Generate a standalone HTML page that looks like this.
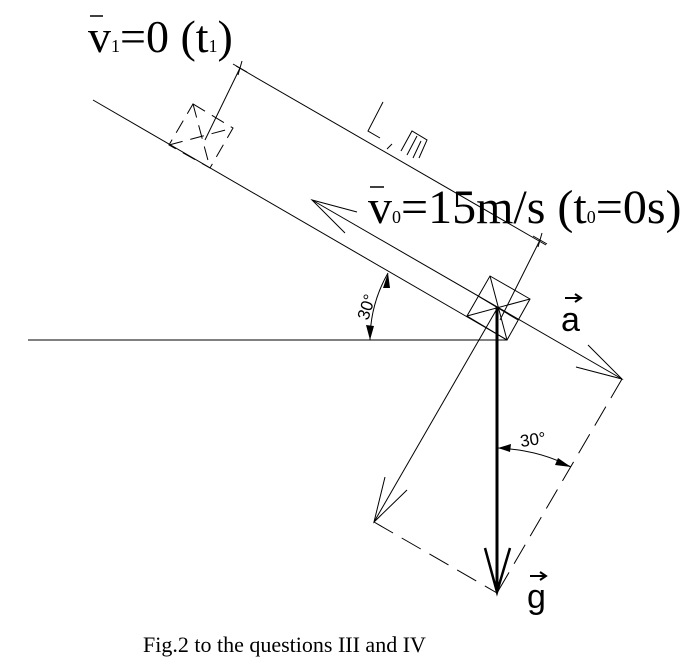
<!DOCTYPE html>
<html><head><meta charset="utf-8"><style>
html,body{margin:0;padding:0;background:#fff;}
svg{display:block;}
</style></head><body>
<svg width="690" height="672" viewBox="0 0 690 672" xmlns="http://www.w3.org/2000/svg">
<g stroke="#000" stroke-width="1" fill="none">
<line x1="28" y1="340" x2="507" y2="340"/>
<line x1="93" y1="100" x2="507" y2="340"/>
<line x1="312" y1="200" x2="622" y2="379"/>
<polyline points="357,212 312,200 345,233"/>
<polyline points="588,345 622,379 576,367"/>
<line x1="236" y1="66" x2="546" y2="245"/>
<line x1="240" y1="68" x2="205" y2="140"/>
<line x1="540" y1="240" x2="500" y2="320"/>
<line x1="233" y1="64" x2="247" y2="72"/>
<line x1="242" y1="61" x2="238" y2="75"/>
<line x1="533" y1="236" x2="547" y2="244"/>
<line x1="542" y1="233" x2="538" y2="247"/>
<polygon points="193,104 233,128 210,168 169,145" stroke-dasharray="14,8"/>
<line x1="193" y1="104" x2="210" y2="168" stroke-dasharray="14,8"/>
<line x1="169" y1="145" x2="233" y2="128" stroke-dasharray="14,8"/>
<polygon points="490,276 530,299 507,340 467,316"/>
<line x1="490" y1="276" x2="507" y2="340"/>
<line x1="467" y1="316" x2="530" y2="299"/>
<line x1="478" y1="296" x2="518" y2="320"/>
<line x1="498" y1="307" x2="374" y2="522"/>
<polyline points="385,477 374,522 407,490"/>
<line x1="622" y1="379" x2="497" y2="593" stroke-dasharray="22,10"/>
<line x1="374" y1="522" x2="497" y2="593" stroke-dasharray="22,10"/>
<line x1="497" y1="307" x2="497" y2="592" stroke-width="3"/>
<polyline points="485,548 497,592 510,548" stroke-width="2.5"/>
<path d="M370,340 A137,137 0 0 1 388,273"/>
<path d="M498,448 Q540,450 571,467"/>
<polyline points="383,102 368,131 380,138"/>
<line x1="387" y1="149" x2="392" y2="144"/>
<polyline points="401,151 412,131 427,140 419,158"/>
<line x1="407" y1="155" x2="417" y2="136"/>
<line x1="413" y1="158" x2="421" y2="141"/>
</g>
<g fill="#000">
<polygon points="388,273 383,288 390,288"/>
<polygon points="370,340 366,325 374,326"/>
<polygon points="498,448 511,444 510,452"/>
<polygon points="571,467 558,458 555,465"/>
</g>
<g font-family="Liberation Sans, sans-serif" font-size="17" fill="#000">
<text transform="translate(368,321) rotate(-72)">30°</text>
<text transform="translate(521,447) rotate(-8)">30°</text>
</g>
<g font-family="Liberation Sans, sans-serif" fill="#000">
<text x="561" y="331" font-size="34">a</text>
<text x="527" y="608" font-size="34">g</text>
</g>
<g stroke="#000" stroke-width="2" fill="none">
<line x1="565" y1="298" x2="580" y2="298"/><polyline points="575,294 581,298 575,302"/>
<line x1="530" y1="576" x2="545" y2="576"/><polyline points="540,572 546,576 540,580"/>
</g>
<g font-family="Liberation Serif, serif" fill="#000">
<text x="88" y="52" font-size="46">v<tspan font-size="18">1</tspan>=0 (t<tspan font-size="18">1</tspan>)</text>
<line x1="90" y1="16" x2="103" y2="16" stroke="#000" stroke-width="1.5"/>
<text x="368" y="223" font-size="48">v<tspan font-size="18">0</tspan>=15m/s (t<tspan font-size="18">0</tspan>=0s)</text>
<line x1="370" y1="187" x2="384" y2="187" stroke="#000" stroke-width="1.5"/>
<text x="143" y="652" font-size="22">Fig.2 to the questions III and IV</text>
</g>
</svg>
</body></html>
